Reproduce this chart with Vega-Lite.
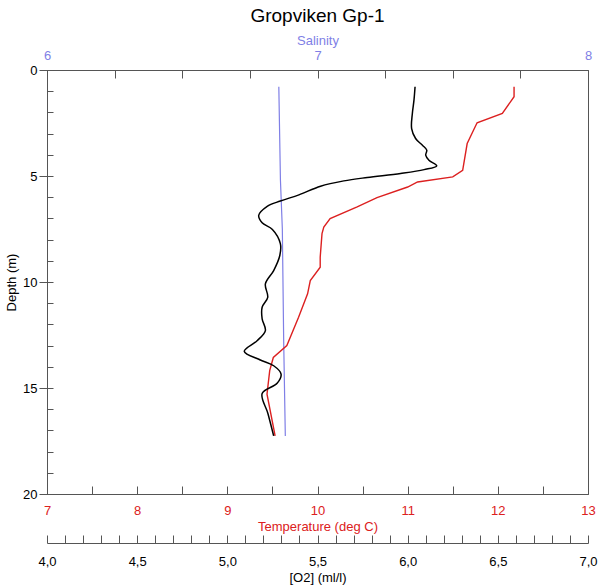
{
  "$schema": "https://vega.github.io/schema/vega-lite/v6.json",
  "width": 541,
  "height": 424,
  "autosize": "none",
  "padding": {"left": 47, "top": 70, "right": 12, "bottom": 91},
  "background": "white",
  "config": {
    "font": "Liberation Sans",
    "view": {"stroke": "#555555", "strokeWidth": 1},
    "axis": {"grid": false, "domainColor": "#555555", "tickColor": "#555555", "labelFont": "Liberation Sans", "titleFont": "Liberation Sans", "labelFontSize": 13, "titleFontSize": 13, "titleFontWeight": "normal", "labelFlush": false, "labelOverlap": false}
  },
  "title": {"text": "Gropviken Gp-1", "fontSize": 19, "fontWeight": "normal", "color": "#000000", "font": "Liberation Sans", "offset": 8},
  "datasets": {
    "sal": [
      {"depth": 0.79, "sal": 6.857},
      {"depth": 5.2, "sal": 6.863},
      {"depth": 7.5, "sal": 6.87},
      {"depth": 12.8, "sal": 6.875},
      {"depth": 17.26, "sal": 6.881}
    ],
    "temp": [
      {"depth": 0.79, "temp": 12.18},
      {"depth": 1.26, "temp": 12.18},
      {"depth": 2.05, "temp": 12.05},
      {"depth": 2.49, "temp": 11.77},
      {"depth": 2.84, "temp": 11.73},
      {"depth": 3.47, "temp": 11.66},
      {"depth": 4.73, "temp": 11.61},
      {"depth": 5.04, "temp": 11.5},
      {"depth": 5.28, "temp": 11.11},
      {"depth": 5.52, "temp": 11.0},
      {"depth": 6.02, "temp": 10.66},
      {"depth": 6.46, "temp": 10.44},
      {"depth": 7.01, "temp": 10.14},
      {"depth": 7.41, "temp": 10.07},
      {"depth": 7.72, "temp": 10.05},
      {"depth": 8.83, "temp": 10.03},
      {"depth": 9.3, "temp": 10.03},
      {"depth": 9.93, "temp": 9.92},
      {"depth": 10.56, "temp": 9.89},
      {"depth": 11.66, "temp": 9.79},
      {"depth": 13.0, "temp": 9.66},
      {"depth": 13.56, "temp": 9.51},
      {"depth": 14.18, "temp": 9.47},
      {"depth": 15.29, "temp": 9.44},
      {"depth": 17.26, "temp": 9.53}
    ],
    "o2": [
      {"depth": 0.79, "o2": 6.041},
      {"depth": 1.42, "o2": 6.035},
      {"depth": 2.05, "o2": 6.026},
      {"depth": 2.76, "o2": 6.022},
      {"depth": 3.23, "o2": 6.044},
      {"depth": 3.55, "o2": 6.082},
      {"depth": 3.78, "o2": 6.106},
      {"depth": 4.02, "o2": 6.1},
      {"depth": 4.26, "o2": 6.118},
      {"depth": 4.52, "o2": 6.161},
      {"depth": 4.7, "o2": 6.091},
      {"depth": 4.88, "o2": 5.961},
      {"depth": 5.07, "o2": 5.776},
      {"depth": 5.23, "o2": 5.646},
      {"depth": 5.48, "o2": 5.517},
      {"depth": 5.89, "o2": 5.397},
      {"depth": 6.18, "o2": 5.294},
      {"depth": 6.43, "o2": 5.221},
      {"depth": 6.86, "o2": 5.174},
      {"depth": 7.21, "o2": 5.193},
      {"depth": 7.52, "o2": 5.25},
      {"depth": 8.19, "o2": 5.294},
      {"depth": 8.75, "o2": 5.291},
      {"depth": 9.46, "o2": 5.257},
      {"depth": 10.09, "o2": 5.211},
      {"depth": 10.72, "o2": 5.224},
      {"depth": 11.19, "o2": 5.193},
      {"depth": 11.74, "o2": 5.193},
      {"depth": 12.29, "o2": 5.211},
      {"depth": 12.77, "o2": 5.165},
      {"depth": 13.27, "o2": 5.094},
      {"depth": 13.68, "o2": 5.183},
      {"depth": 13.95, "o2": 5.257},
      {"depth": 14.34, "o2": 5.298},
      {"depth": 14.78, "o2": 5.276},
      {"depth": 15.26, "o2": 5.193},
      {"depth": 16.2, "o2": 5.225},
      {"depth": 17.26, "o2": 5.257}
    ]
  },
  "layer": [
    {
      "data": {"name": "sal"},
      "mark": {"type": "line", "color": "#7f7fe6", "strokeWidth": 1.2},
      "encoding": {
        "x": {"field": "sal", "type": "quantitative", "scale": {"domain": [6, 8], "nice": false, "zero": false},
          "axis": {"orient": "top", "title": "Salinity", "titleColor": "#7f7fe6", "labelColor": "#7f7fe6", "values": [6, 6.25, 6.5, 6.75, 7, 7.25, 7.5, 7.75, 8], "tickSize": -8, "labelPadding": 16, "titlePadding": 2, "labelExpr": "datum.value % 1 === 0 ? format(datum.value, 'd') : ''"}},
        "y": {"field": "depth", "type": "quantitative", "scale": {"domain": [0, 20], "reverse": true, "nice": false, "zero": false},
          "axis": {"orient": "left", "title": "Depth (m)", "titleColor": "#000000", "labelColor": "#000000", "values": [0, 5, 10, 15, 20], "tickSize": 8, "labelPadding": 2, "titlePadding": 4}},
        "order": {"field": "depth", "type": "quantitative"}
      }
    },
    {
      "data": {"name": "temp"},
      "mark": {"type": "line", "color": "#dc2020", "strokeWidth": 1.4},
      "encoding": {
        "x": {"field": "temp", "type": "quantitative", "scale": {"domain": [7, 13], "nice": false, "zero": false},
          "axis": {"orient": "bottom", "title": "Temperature (deg C)", "titleColor": "#dc2020", "labelColor": "#dc2020", "values": [7, 7.5, 8, 8.5, 9, 9.5, 10, 10.5, 11, 11.5, 12, 12.5, 13], "tickSize": -8, "labelPadding": 18, "titlePadding": 3, "labelExpr": "datum.value % 1 === 0 ? format(datum.value, 'd') : ''"}},
        "y": {"field": "depth", "type": "quantitative", "scale": {"domain": [0, 20], "reverse": true, "nice": false, "zero": false},
          "axis": {"orient": "left", "title": null, "labels": false, "domain": false, "values": [0,1,2,3,4,5,6,7,8,9,10,11,12,13,14,15,16,17,18,19,20], "tickSize": -6}},
        "order": {"field": "depth", "type": "quantitative"}
      }
    },
    {
      "data": {"name": "o2"},
      "mark": {"type": "line", "color": "#000000", "strokeWidth": 1.5, "interpolate": "catmull-rom"},
      "encoding": {
        "x": {"field": "o2", "type": "quantitative", "scale": {"domain": [4, 7], "nice": false, "zero": false},
          "axis": {"orient": "bottom", "offset": 49, "title": "[O2] (ml/l)", "titleColor": "#000000", "labelColor": "#000000", "values": [4,4.1,4.2,4.3,4.4,4.5,4.6,4.7,4.8,4.9,5,5.1,5.2,5.3,5.4,5.5,5.6,5.7,5.8,5.9,6,6.1,6.2,6.3,6.4,6.5,6.6,6.7,6.8,6.9,7], "tickSize": -8, "labelPadding": 20, "titlePadding": 3, "labelExpr": "abs(datum.value * 2 - round(datum.value * 2)) < 0.001 ? replace(format(datum.value, '.1f'), '.', ',') : ''"}},
        "y": {"field": "depth", "type": "quantitative", "scale": {"domain": [0, 20], "reverse": true, "nice": false, "zero": false}, "axis": null},
        "order": {"field": "depth", "type": "quantitative"}
      }
    }
  ],
  "resolve": {"scale": {"x": "independent"}, "axis": {"x": "independent", "y": "independent"}}
}
